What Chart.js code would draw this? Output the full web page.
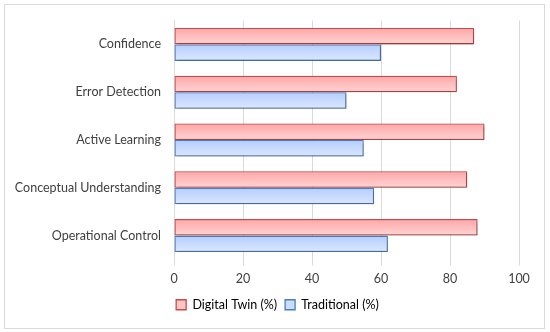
<!DOCTYPE html>
<html>
<head>
<meta charset="utf-8">
<script src="https://cdn.jsdelivr.net/npm/chart.js@4.4.1/dist/chart.umd.min.js"></script>
<style>
html,body{margin:0;padding:0;background:#fff;}
#wrap{width:550px;height:332px;position:relative;}
</style>
</head>
<body>
<div id="wrap"><canvas id="c" width="550" height="332"></canvas></div>
<script>
const categories = ["Confidence", "Error Detection", "Active Learning", "Conceptual Understanding", "Operational Control"];
const digitalTwin = [87, 82, 90, 85, 88];
const traditional = [60, 50, 55, 58, 62];
const xTicks = [0, 20, 40, 60, 80, 100];
const seriesNames = ["Digital Twin (%)", "Traditional (%)"];

const CAT_PCT = 0.69;

function barGradient(top, bottom) {
  return function (c) {
    const chart = c.chart;
    const ys = chart.scales.y;
    if (!ys || c.type !== 'data') return top;
    const center = ys.getPixelForValue(c.dataIndex);
    const band = (ys.bottom - ys.top) / categories.length;
    const half = band * CAT_PCT / 2;
    const y0 = c.datasetIndex === 0 ? center - half : center;
    const y1 = c.datasetIndex === 0 ? center : center + half;
    const g = chart.ctx.createLinearGradient(0, y0, 0, y1);
    g.addColorStop(0, top);
    g.addColorStop(1, bottom);
    return g;
  };
}

const frame = {
  id: 'frame',
  afterLayout(chart) {
    if (chart.legend) {
      chart.legend.left += 18;
      chart.legend.right += 18;
      chart.legend.top += 1;
      chart.legend.bottom += 1;
    }
  },
  beforeDraw(chart) {
    const c = chart.ctx;
    c.save();
    c.fillStyle = '#ffffff';
    c.fillRect(0, 0, chart.width, chart.height);
    c.strokeStyle = '#d9d9d9';
    c.lineWidth = 1;
    c.strokeRect(4.5, 4.5, 540, 324);
    c.restore();
  },
  beforeDatasetsDraw(chart) {
    const c = chart.ctx;
    c.save();
    c.shadowColor = 'rgba(0,0,0,0.28)';
    c.shadowBlur = 3;
    c.shadowOffsetX = 1.5;
    c.shadowOffsetY = 1.5;
  },
  afterDatasetsDraw(chart) {
    chart.ctx.restore();
  }
};

new Chart(document.getElementById('c'), {
  type: 'bar',
  data: {
    labels: categories,
    datasets: [
      {
        label: seriesNames[0],
        data: digitalTwin,
        backgroundColor: barGradient('#ffa6a6', '#ffd4d4'),
        borderColor: '#c9494a',
        borderWidth: 1.3,
        borderSkipped: false
      },
      {
        label: seriesNames[1],
        data: traditional,
        backgroundColor: barGradient('#b5cdff', '#dbe7ff'),
        borderColor: '#4a7cc4',
        borderWidth: 1.3,
        borderSkipped: false
      }
    ]
  },
  options: {
    indexAxis: 'y',
    responsive: false,
    animation: false,
    devicePixelRatio: 1,
    categoryPercentage: CAT_PCT,
    barPercentage: 1.0,
    layout: { padding: { left: 0, right: 31, top: 20, bottom: 12 } },
    scales: {
      x: {
        min: 0, max: 100,
        afterBuildTicks(s) { s.ticks = xTicks.map(v => ({ value: v })); },
        grid: { color: '#d9d9d9', lineWidth: 1, drawTicks: true, tickLength: 6, tickColor: '#d9d9d9' },
        border: { display: false },
        ticks: { color: '#404040', font: { family: 'Lato', size: 12.5 }, padding: 6 },
        afterFit(s) { s.height = 30; }
      },
      y: {
        grid: { display: false, drawTicks: false },
        border: { display: true, color: '#d9d9d9', width: 1 },
        ticks: { color: '#404040', font: { family: 'Lato', size: 12.5 }, padding: 13 },
        afterFit(s) { s.width = 174; }
      }
    },
    plugins: {
      legend: {
        position: 'bottom',
        labels: {
          color: '#404040',
          font: { family: 'Lato', size: 12.5 },
          boxWidth: 10, boxHeight: 10,
          padding: 8,
          generateLabels(chart) {
            const fills = ['#ffc4c4', '#cadcff'];
            return chart.data.datasets.map((d, i) => ({
              text: d.label,
              fillStyle: fills[i],
              strokeStyle: d.borderColor,
              lineWidth: 1.3,
              datasetIndex: i,
              hidden: false
            }));
          }
        }
      },
      tooltip: { enabled: false }
    }
  },
  plugins: [frame]
});
</script>
</body>
</html>
